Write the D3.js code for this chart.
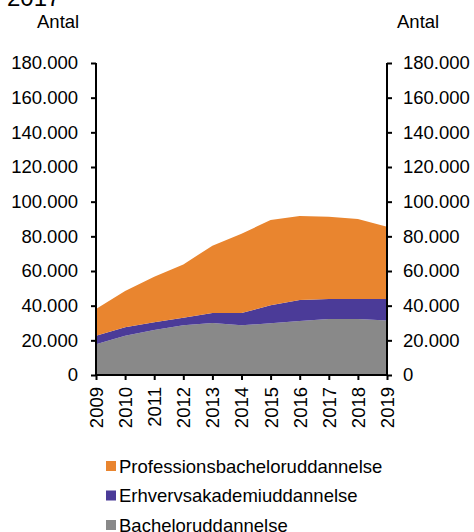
<!DOCTYPE html>
<html><head><meta charset="utf-8">
<script src="https://cdn.jsdelivr.net/npm/d3@7"></script>
<style>body{margin:0;background:#fff}svg{display:block}text{font-family:"Liberation Sans",Arial,sans-serif;fill:#000}</style>
</head><body><svg id="c" width="474" height="532"></svg>
<script>
const years = [2009,2010,2011,2012,2013,2014,2015,2016,2017,2018,2019];
const bachelor = [17700,22700,26000,28650,30000,28650,29800,31150,32300,32300,31500];
const erhverv = [5000,4800,4400,4450,5800,7150,10400,12150,11500,11500,12300];
const profession = [15400,21000,26300,30700,38800,45700,49200,48400,47500,46200,41800];
const yTicks = [0,20000,40000,60000,80000,100000,120000,140000,160000,180000];
const seriesNames = ["Bacheloruddannelse","Erhvervsakademiuddannelse","Professionsbacheloruddannelse"];
const colors = ["#898989","#4B3B98","#E9852F"];

const svg = d3.select("#c");
const x = d3.scaleLinear().domain([2009,2019]).range([96,387]);
const y = d3.scaleLinear().domain([0,180000]).range([375,63]);
const rows = years.map((yr,i)=>({year:yr, b:bachelor[i], e:erhverv[i], p:profession[i]}));
const stack = d3.stack().keys(["b","e","p"])(rows);
const area = d3.area().x(d=>x(d.data.year)).y0(d=>y(d[0])).y1(d=>y(d[1]));
svg.append("g").selectAll("path").data(stack).join("path")
  .attr("d",area).attr("fill",(d,i)=>colors[i]);

const fmt = v => d3.format(",")(v).replace(/,/g,".");
const fs = "18.5px";
const yl = d3.axisLeft(y).tickValues(yTicks).tickSize(5).tickPadding(13).tickFormat(fmt);
const yr = d3.axisRight(y).tickValues(yTicks).tickSize(5).tickPadding(11).tickFormat(fmt);
const gl = svg.append("g").attr("transform","translate(96,0)").call(yl);
const gr = svg.append("g").attr("transform","translate(387,0)").call(yr);
const xa = d3.axisBottom(x).tickValues(years).tickSize(5).tickFormat(d3.format("d"));
const gx = svg.append("g").attr("transform","translate(0,375)").call(xa);
[gl,gr,gx].forEach(g=>{
  g.select(".domain").attr("stroke","#000").attr("stroke-width",2);
  g.selectAll(".tick line").attr("stroke","#000").attr("stroke-width",2);
  g.selectAll("text").attr("font-size",fs).attr("font-family","Liberation Sans, Arial, sans-serif").attr("fill","#000");
});
gl.select(".domain").attr("d","M0,63V375");
gr.select(".domain").attr("d","M0,63V375");
gx.select(".domain").attr("d","M96,0H387");
gx.selectAll("text").attr("transform","rotate(-90)").attr("text-anchor","end")
  .attr("x",-12).attr("y",0).attr("dy","0.35em");

svg.append("text").attr("x",7).attr("y",6).attr("font-size","24px").text("2017");
svg.append("text").attr("x",37).attr("y",28).attr("font-size",fs).text("Antal");
svg.append("text").attr("x",397).attr("y",28).attr("font-size",fs).text("Antal");

const legendOrder = [2,1,0];
const lg = svg.append("g");
legendOrder.forEach((k,i)=>{
  const cy = 466 + i*29.5;
  lg.append("rect").attr("x",106).attr("y",cy-5).attr("width",10).attr("height",10).attr("fill",colors[k]);
  lg.append("text").attr("x",119).attr("y",cy).attr("dy","0.36em").attr("font-size",fs).text(seriesNames[k]);
});
</script></body></html>
